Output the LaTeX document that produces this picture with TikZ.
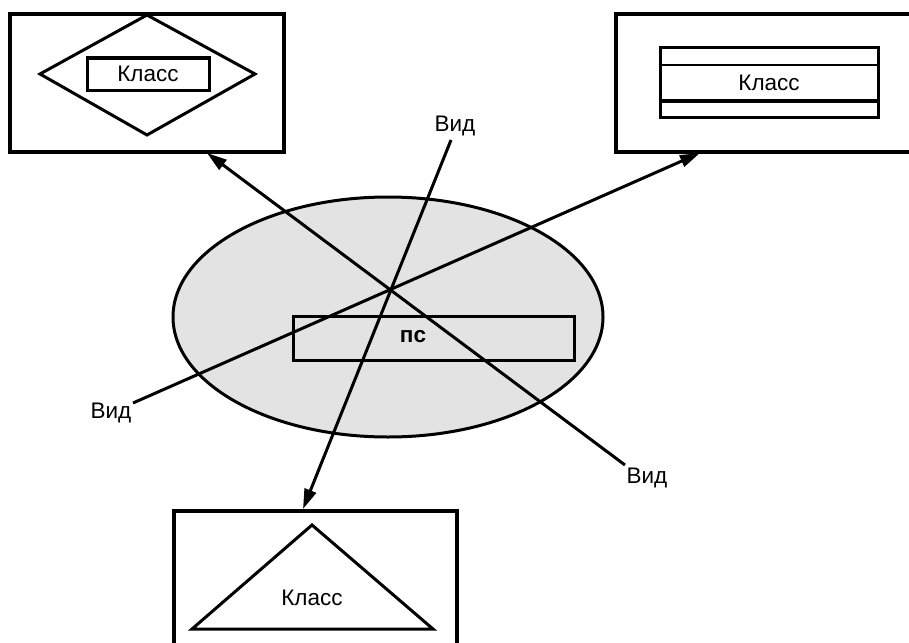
\documentclass[tikz,border=0pt]{standalone}
\usepackage{fontspec}
\setmainfont{Liberation Sans}
\usetikzlibrary{arrows.meta,shapes.geometric}
\begin{document}
\begin{tikzpicture}[x=1pt,y=-1pt,
  frame/.style={draw,line width=3.4pt,rectangle,inner sep=0pt},
  thin/.style={draw,line width=3pt},
  lbl/.style={font=\fontsize{22.5}{26}\selectfont,inner sep=0pt},
  arr/.style={line width=3pt,-{Triangle[length=20pt,width=12pt]}}]
\useasboundingbox (0,0) rectangle (909,642);
% outer boxes
\node[frame,minimum width=274pt,minimum height=138pt] (tl) at (147,83) {};
\node[frame,minimum width=340pt,minimum height=138pt] (tr) at (786,83) {};
\node[frame,minimum width=283pt,minimum height=150pt] (bt) at (315.5,586) {};
% top-left content
\draw[thin,line join=miter] (147,15) -- (255,74) -- (147,135) -- (40,74) -- cycle;
\node[frame,line width=3pt,minimum width=122pt,minimum height=32pt,lbl] (k1) at (148,74) {Класс};
% top-right content
\node[frame,line width=3pt,minimum width=218pt,minimum height=69pt] (cls) at (769,82.5) {};
\draw[line width=2.4pt] (cls.west |- 0,65) -- (cls.east |- 0,65);
\draw[line width=3.4pt] (cls.west |- 0,101) -- (cls.east |- 0,101);
\node[lbl] (k2) at (769,83) {Класс};
% bottom content
\draw[thin,line join=miter] (312,525) -- (433,629) -- (192,629) -- cycle;
\node[lbl] (k3) at (312,598) {Класс};
% ellipse
\node[ellipse,draw,line width=3pt,fill=black!11,minimum width=430pt,minimum height=240pt] (el) at (388,317) {};
\node[frame,line width=3pt,minimum width=281pt,minimum height=44pt] (ps) at (433.5,338) {};
\node[lbl,font=\fontsize{22.5}{26}\selectfont\bfseries] (pst) at (413,337) {пс};
% labels
\node[lbl] (v1) at (111,413) {Вид};
\node[lbl] (v2) at (647,478) {Вид};
\node[lbl] (v3) at (455,126) {Вид};
\coordinate (s1) at (133,403);
\coordinate (s2) at (625,465);
\coordinate (s3) at (451,140);
\coordinate (e1) at (700,153);
\coordinate (e2) at (207,153);
\coordinate (e3) at (303,509);
\draw[arr] (s1) -- (e1);
\draw[arr] (s2) -- (e2);
\draw[arr] (s3) -- (e3);
\end{tikzpicture}
\end{document}
